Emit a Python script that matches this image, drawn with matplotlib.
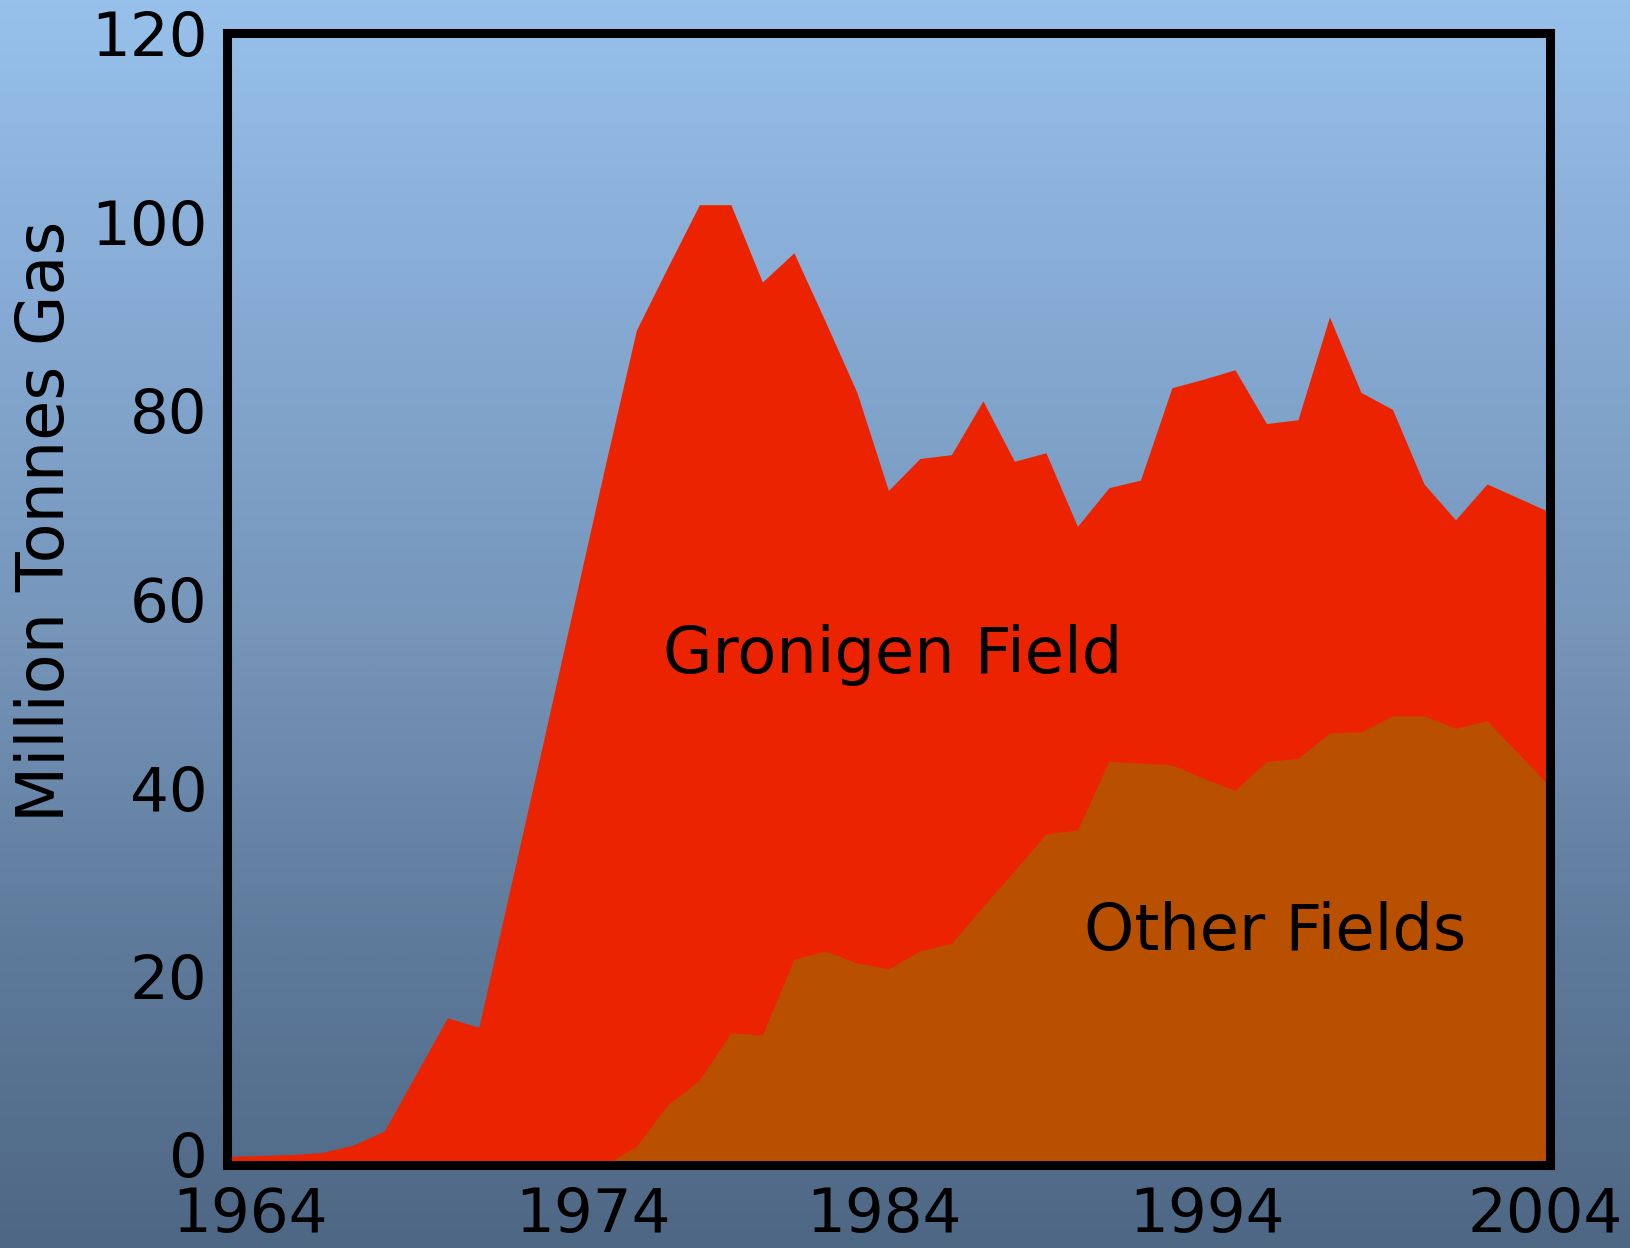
import numpy as np
import matplotlib
matplotlib.use("Agg")
import matplotlib.pyplot as plt
from matplotlib.colors import LinearSegmentedColormap
from matplotlib.transforms import ScaledTranslation

# ---- data ----
years = list(range(1962, 2005))
total = [0.9, 1.0, 1.1, 1.3, 2.1, 3.6, 9.6, 15.6, 14.6, 29.4,
         44.2, 59.1, 74.0, 88.5, 95.2, 101.8, 101.8, 93.6, 96.7, 89.4,
         81.9, 71.5, 74.9, 75.3, 81.0, 74.6, 75.5, 67.7, 71.8, 72.6,
         82.4, 83.3, 84.3, 78.6, 79.0, 89.9, 81.9, 80.1, 72.2, 68.4,
         72.2, 70.7, 69.2]
other_years = list(range(1974, 2005))
other = [0.0, 2.0, 6.4, 9.0, 14.0, 13.8, 21.8, 22.7, 21.4, 20.8,
         22.7, 23.5, 27.4, 31.2, 35.1, 35.5, 42.8, 42.6, 42.4, 41.0,
         39.7, 42.8, 43.1, 45.8, 45.9, 47.6, 47.6, 46.3, 47.1, 43.6,
         40.1]
ytick_vals = [0, 20, 40, 60, 80, 100, 120]
xtick_labels = ["1964", "1974", "1984", "1994", "2004"]
series_labels = ["Gronigen Field", "Other Fields"]
ylabel = "Million Tonnes Gas"

RED = "#EC2300"
ORANGE = "#B85000"

fig = plt.figure(figsize=(16.31, 12.48), dpi=100)

# background gradient
bg = fig.add_axes([0, 0, 1, 1], zorder=-10)
cmap = LinearSegmentedColormap.from_list(
    "bg", ["#97C1EB", "#86AAD3", "#7696BA", "#5F7B9C", "#4E6784"])
grad = np.linspace(0, 1, 512).reshape(-1, 1)
bg.imshow(grad, aspect="auto", cmap=cmap, extent=[0, 1, 0, 1])
bg.set_axis_off()

ax = fig.add_axes([226.8 / 1631, 1 - 1165 / 1248, (1550 - 226.8) / 1631,
                   (1165 - 33) / 1248])
ax.set_facecolor("none")

ax.fill_between(years, 0, total, color=RED, lw=0, zorder=2)
ax.fill_between(other_years, 0.35, other, color=ORANGE, lw=0, zorder=3)

ax.set_xlim(1962, 2004)
ax.set_ylim(0, 120)

ax.set_yticks(ytick_vals)
ax.set_yticklabels([str(v) for v in ytick_vals])
xtick_pos = [1962.73, 1973.62, 1982.86, 1993.11, 2003.84]
ax.set_xticks(xtick_pos)
ax.set_xticklabels(xtick_labels)
ax.tick_params(axis="both", length=0, labelsize=44, colors="black")
ax.tick_params(axis="y", pad=14)
ax.tick_params(axis="x", pad=15)

# the "0" label sits slightly raised in the original
zero_lbl = ax.get_yticklabels()[0]
zero_lbl.set_transform(zero_lbl.get_transform() +
                       ScaledTranslation(0, 8 / 72, fig.dpi_scale_trans))

for s in ax.spines.values():
    s.set_linewidth(6.5)
    s.set_color("black")
    s.set_zorder(5)

ax.set_ylabel(ylabel, fontsize=47)
ax.yaxis.set_label_coords(-0.1125, 0.569)

ax.text(1975.85, 54.1, series_labels[0], fontsize=46, color="black",
        ha="left", va="center", zorder=6)
ax.text(1989.2, 24.75, series_labels[1], fontsize=46, color="black",
        ha="left", va="center", zorder=6)

fig.savefig("out.png", dpi=100)
